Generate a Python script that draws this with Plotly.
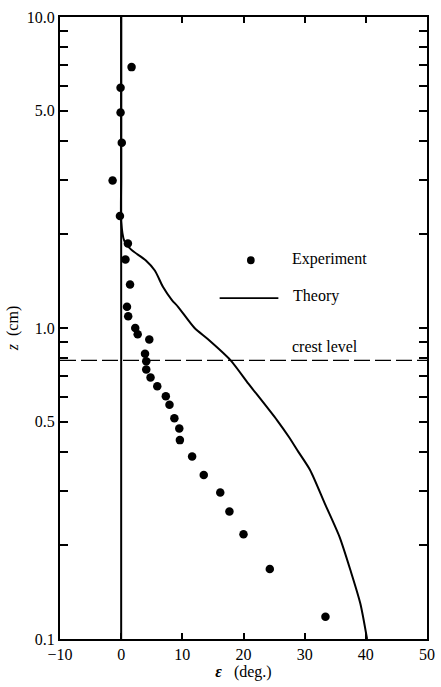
import plotly.graph_objects as go

# Experimental points: epsilon (deg.) and z (cm)
exp_eps = [1.7, -0.1, -0.1, 0.1, -1.4, -0.2, 1.1, 0.7, 1.45, 0.95, 1.15, 2.3, 2.7, 4.6,
           3.9, 4.1, 4.1, 4.8, 5.9, 7.3, 7.9, 8.7, 9.5, 9.6, 11.6, 13.5, 16.2, 17.7,
           20.0, 24.3, 33.4]
exp_z = [6.9, 5.92, 4.93, 3.94, 2.98, 2.29, 1.87, 1.66, 1.38, 1.17, 1.09, 1.0, 0.954, 0.918,
         0.827, 0.782, 0.735, 0.693, 0.650, 0.603, 0.567, 0.513, 0.475, 0.436, 0.386, 0.337,
         0.296, 0.257, 0.217, 0.168, 0.118]

# Theory curve
th_eps = [0.0, 0.0, 0.0, 0.0, 0.5, 1.6, 4.0, 5.5, 6.8, 8.3, 9.3, 12.0, 14.2, 17.9, 20.8,
          22.1, 25.5, 27.4, 29.0, 30.9, 33.3, 35.7, 37.5, 39.1, 40.2]
th_z = [10.0, 5.0, 3.0, 2.2, 1.91, 1.79, 1.65, 1.53, 1.36, 1.23, 1.17, 1.0, 0.92, 0.787,
        0.662, 0.615, 0.505, 0.447, 0.399, 0.349, 0.2725, 0.213, 0.166, 0.130, 0.1]

crest_z = 0.787

x_ticks = [-10, 0, 10, 20, 30, 40, 50]
x_labels = ["\u221210", "0", "10", "20", "30", "40", "50"]
y_ticks = [0.1, 0.2, 0.3, 0.4, 0.5, 0.6, 0.7, 0.8, 0.9,
           1, 2, 3, 4, 5, 6, 7, 8, 9, 10]
y_labels = ["0.1", "", "", "", "0.5", "", "", "", "",
            "1.0", "", "", "", "5.0", "", "", "", "", "10.0"]

serif = "Liberation Serif"
fs = 16

fig = go.Figure()

fig.add_trace(go.Scatter(x=th_eps, y=th_z, mode="lines",
                         line=dict(color="black", width=2, shape="spline", smoothing=0.7),
                         hoverinfo="skip", showlegend=False))
fig.add_trace(go.Scatter(x=exp_eps, y=exp_z, mode="markers",
                         marker=dict(color="black", size=8.5),
                         hoverinfo="skip", showlegend=False))

shapes = [
    # zero line
    dict(type="line", xref="x", yref="paper", x0=0, x1=0, y0=0, y1=1,
         line=dict(color="black", width=2)),
    # crest level
    dict(type="line", xref="paper", yref="y", x0=0, x1=1, y0=crest_z, y1=crest_z,
         line=dict(color="black", width=1.3, dash="16px,5px")),
    # legend line
    dict(type="line", xref="paper", yref="paper", x0=0.435, x1=0.595, y0=0.548, y1=0.548,
         line=dict(color="black", width=1.8)),
    # legend marker
    dict(type="circle", xref="paper", yref="paper", x0=0.52 - 0.0105, x1=0.52 + 0.0105,
         y0=0.609 - 0.0064, y1=0.609 + 0.0064, fillcolor="black", line=dict(color="black", width=0)),
]

annotations = [
    dict(text="Experiment", xref="paper", yref="paper", x=0.627, y=0.611,
         xanchor="left", yanchor="middle", showarrow=False,
         font=dict(family=serif, size=fs, color="black")),
    dict(text="Theory", xref="paper", yref="paper", x=0.63, y=0.551,
         xanchor="left", yanchor="middle", showarrow=False,
         font=dict(family=serif, size=fs, color="black")),
    dict(text="crest level", xref="paper", yref="paper", x=0.627, y=0.47,
         xanchor="left", yanchor="middle", showarrow=False,
         font=dict(family=serif, size=fs, color="black")),
]

fig.update_layout(
    width=441, height=687,
    margin=dict(l=60, r=6, t=17, b=48),
    paper_bgcolor="white", plot_bgcolor="white",
    shapes=shapes, annotations=annotations,
    hovermode=False,
    font=dict(family=serif, size=fs, color="black"),
    xaxis=dict(range=[-10, 50], tickvals=x_ticks, ticktext=x_labels,
               ticks="inside", ticklen=6, tickwidth=2, tickcolor="black",
               showline=True, linecolor="black", linewidth=2, mirror="ticks",
               showgrid=False, zeroline=False,
               tickfont=dict(family=serif, size=fs, color="black"),
               title=dict(text="<b><i>\u03b5</i></b>   (deg.)", standoff=4,
                          font=dict(family=serif, size=fs, color="black"))),
    yaxis=dict(type="log", range=[-1, 1], tickvals=y_ticks, ticktext=y_labels,
               ticks="inside", ticklen=8, tickwidth=1.5, tickcolor="black",
               showline=True, linecolor="black", linewidth=2, mirror="ticks",
               showgrid=False, zeroline=False,
               tickfont=dict(family=serif, size=fs, color="black"),
               title=dict(text="<i>z</i>  (cm)", standoff=4,
                          font=dict(family=serif, size=fs, color="black"))),
)

fig.write_html("out.html")
